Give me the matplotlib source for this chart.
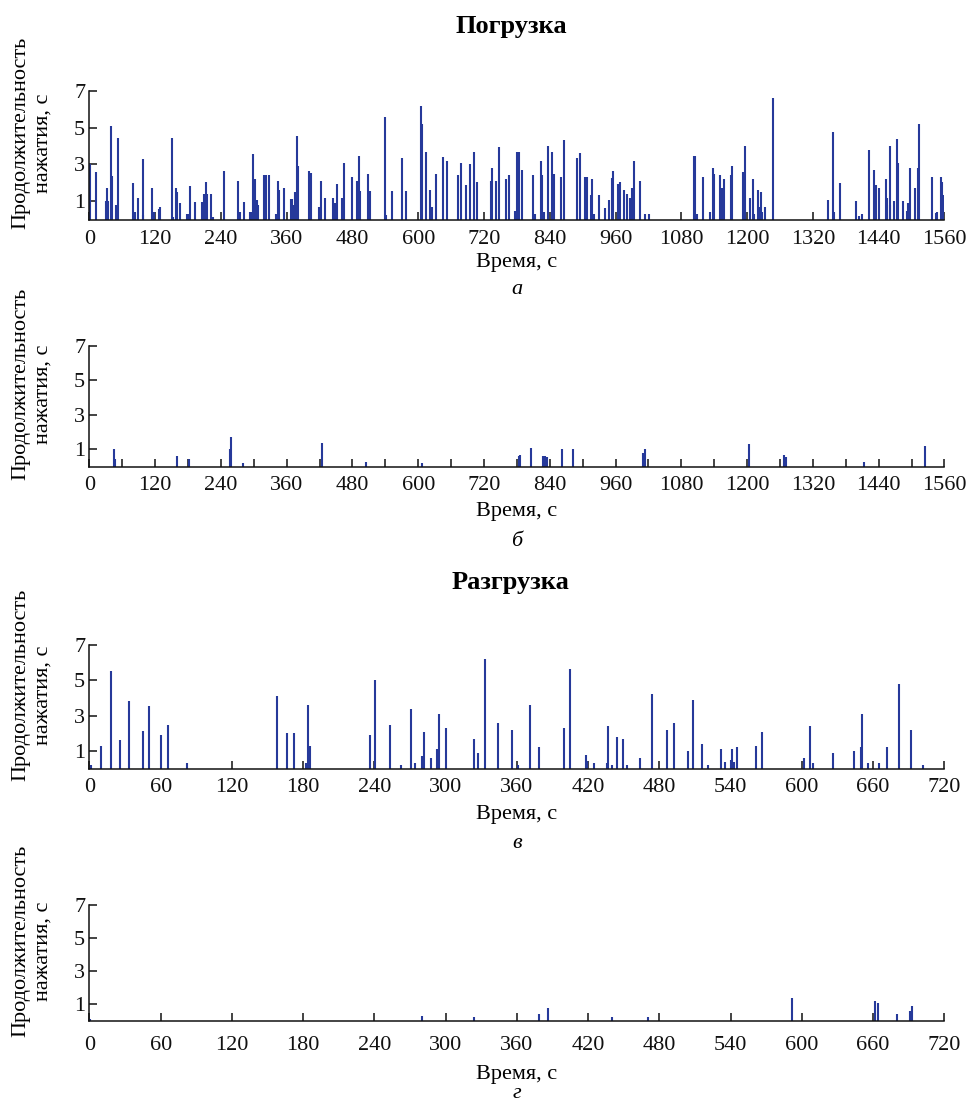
import matplotlib
matplotlib.use("Agg")
import matplotlib.pyplot as plt
from matplotlib.ticker import MultipleLocator

plt.rcParams['font.family'] = ['Liberation Serif', 'DejaVu Serif']

# ---- data: panel a (loading, t in s, press duration in s)
a_t = [1, 12, 30, 32, 34, 39, 42, 48, 52, 80, 84, 88, 97, 98, 114, 117, 127, 129,
       150, 152, 158, 160, 165, 178, 181, 184, 193, 205, 208, 210, 212, 214, 222, 226,
       245, 272, 275, 282, 293, 295, 298, 303, 305, 307, 319, 323, 327, 340, 344, 346,
       355, 368, 370, 373, 375, 379, 380,
       401, 404, 419, 423, 430, 445, 448, 451, 460, 464, 479, 489, 491, 493, 508, 512,
       539, 542, 552, 570, 577, 605, 607, 614, 622, 625, 633, 645, 653, 673, 678, 688,
       694, 702, 707, 732, 735, 742, 748, 761, 765, 777, 781, 783, 789,
       810, 813, 824, 826, 830, 836, 844, 848, 860, 866, 889, 895, 904, 907, 915, 917,
       920, 929, 940, 948, 954, 956, 964, 968, 976, 980, 987, 990, 993, 1005, 1014, 1021,
       1103, 1105, 1109, 1119, 1133, 1137, 1140, 1151, 1154, 1157, 1170, 1173,
       1193, 1197, 1206, 1210, 1212, 1220, 1222, 1226, 1228, 1232, 1247,
       1348, 1356, 1358, 1370, 1399, 1404, 1409, 1423, 1432, 1435, 1440, 1453, 1456,
       1460, 1461, 1468, 1473, 1476, 1485, 1491, 1494, 1497, 1507, 1512, 1514,
       1537, 1544, 1547, 1553, 1556, 1560]
a_v = [3.0, 2.6, 1.0, 1.7, 1.0, 5.1, 2.4, 0.8, 4.45, 2.0, 0.45, 1.2, 0.25, 3.3, 1.7, 0.45, 0.6, 0.7,
       4.45, 0.15, 1.7, 1.5, 0.9, 0.3, 0.3, 1.85, 0.95, 0.95, 0.4, 1.4, 2.05, 1.4, 1.4, 0.15,
       2.65, 2.1, 0.45, 0.95, 0.4, 0.4, 3.55, 2.2, 1.1, 0.8, 2.45, 2.45, 2.45, 0.3, 2.1, 1.6,
       1.7, 1.15, 1.15, 0.8, 1.5, 4.55, 2.9,
       2.65, 2.55, 0.7, 2.1, 1.2, 1.2, 0.9, 1.95, 1.2, 3.1, 2.3, 2.1, 3.45, 1.55, 2.5, 1.55,
       5.55, 0.25, 1.55, 3.35, 1.55, 6.15, 5.2, 3.65, 1.6, 0.7, 2.5, 3.4, 3.2, 2.45, 3.1, 1.9,
       3.0, 3.7, 2.05, 2.1, 2.8, 2.1, 3.95, 2.2, 2.45, 0.5, 3.65, 3.65, 2.7,
       2.45, 0.3, 3.2, 2.45, 0.4, 4.0, 3.7, 2.5, 2.3, 4.3, 3.35, 3.6, 2.3, 2.3, 1.35, 2.2,
       0.3, 1.35, 0.65, 1.1, 2.25, 2.65, 1.95, 2.05, 1.6, 1.4, 1.2, 1.7, 3.2, 2.1, 0.3, 0.3,
       3.45, 3.45, 0.3, 2.3, 0.45, 2.8, 2.5, 2.45, 1.75, 2.2, 2.45, 2.9,
       2.6, 4.0, 1.2, 2.2, 0.3, 1.6, 0.7, 1.5, 0.4, 0.7, 6.6,
       1.1, 4.75, 0.4, 2.0, 1.0, 0.2, 0.3, 3.8, 2.7, 1.9, 1.7, 2.2, 1.2,
       0.8, 4.0, 1.0, 4.4, 3.1, 1.0, 0.5, 0.9, 2.8, 1.7, 2.8, 5.2,
       2.3, 0.35, 0.4, 2.3, 2.05, 1.35]

# ---- panel b (loading, second operator)
b_t = [44, 47, 160, 182, 257, 259, 281, 424, 505, 607, 784, 786, 806, 827, 832, 835,
       862, 883, 1010, 1014, 1204, 1268, 1271, 1414, 1525]
b_v = [1.0, 0.42, 0.62, 0.45, 1.0, 1.75, 0.2, 1.4, 0.3, 0.2, 0.6, 0.7, 1.1, 0.62, 0.62, 0.58,
       1.0, 1.0, 0.78, 1.0, 1.3, 0.7, 0.58, 0.3, 1.2]

# ---- panel c (unloading)
c_t = [1, 10, 18, 26, 33.5, 45, 50, 60, 66, 82, 158, 166, 172.5, 182.5, 184.5, 185.7,
       236, 240.5, 253.5, 262.5, 271, 274.5, 280.5, 281.5, 287.5, 292.5, 294, 300,
       324, 327.5, 333.5, 344, 356, 361, 371, 379, 400, 405, 418, 419, 425, 436, 436.5,
       440.5, 444.5, 449.5, 453, 464, 474, 486, 492, 504, 508, 515.5, 521, 531.5, 535.5,
       540, 541.5, 543, 545.5, 561, 566.5, 602, 607, 609, 626.5, 644, 649.5, 651, 656,
       665, 672, 682, 691.5, 702]
c_v = [0.2, 1.3, 5.55, 1.6, 3.85, 2.15, 3.55, 1.9, 2.5, 0.3, 4.1, 2.0, 2.0, 0.3, 3.6, 1.3,
       1.9, 5.0, 2.5, 0.2, 3.4, 0.3, 0.7, 2.1, 0.6, 1.1, 3.1, 2.3,
       1.7, 0.9, 6.2, 2.6, 2.2, 0.2, 3.6, 1.2, 2.3, 5.65, 0.8, 0.45, 0.3, 0.3, 2.4,
       0.2, 1.8, 1.7, 0.2, 0.6, 4.2, 2.2, 2.6, 1.0, 3.9, 1.4, 0.2, 1.1, 0.4,
       0.5, 1.1, 0.4, 1.2, 1.3, 2.1, 0.6, 2.4, 0.3, 0.9, 1.0, 1.2, 3.1, 0.3,
       0.3, 1.2, 4.8, 2.2, 0.2]

# ---- panel d (unloading, second operator)
d_t = [0.5, 280.5, 323.5, 379, 386.5, 440.5, 470.5, 592, 661.5, 664, 680.5, 691, 692.5]
d_v = [0.1, 0.3, 0.22, 0.4, 0.8, 0.22, 0.22, 1.4, 1.2, 1.07, 0.4, 0.6, 0.9]

y_ticks = [1, 3, 5, 7]
titles = {'a': 'Погрузка', 'c': 'Разгрузка'}
ylabel1 = 'Продолжительность'
ylabel2 = 'нажатия, с'
xlabel = 'Время, с'
letters = ['а', 'б', 'в', 'г']

W, H = 969, 1106
fig = plt.figure(figsize=(W / 100, H / 100), dpi=100)

def fx(px):
    return px / W

def fy(py):
    return 1 - py / H

BAR = '#26399a'
FS = 16

# (top px, bottom px, xmax, major, minor, tick-label pad, data)
panels = [
    (90.7, 219.8, 1560, 120, None, 7.0, a_t, a_v),
    (346.0, 466.7, 1560, 120, 60, 7.0, b_t, b_v),
    (645.0, 768.7, 720, 60, None, 6.5, c_t, c_v),
    (905.0, 1021.0, 720, 60, None, 11.0, d_t, d_v),
]
xl_y = [263, 512, 815, 1075]
let_y = [290, 541, 843, 1094]
left_px, right_px = 89.4, 944.4

for i, (top, bot, xmax, major, minor, pad, ts, vs) in enumerate(panels):
    ax = fig.add_axes([fx(left_px), fy(bot), fx(right_px - left_px), (bot - top) / H])
    ax.vlines(ts, 0, vs, colors=BAR, linewidth=1.5)
    ax.set_xlim(0, xmax)
    ax.set_ylim(0, 7)
    ax.xaxis.set_major_locator(MultipleLocator(major))
    if minor:
        ax.xaxis.set_minor_locator(MultipleLocator(minor))
    ax.set_yticks(y_ticks)
    for s in ['top', 'right']:
        ax.spines[s].set_visible(False)
    for s in ['left', 'bottom']:
        ax.spines[s].set_linewidth(1.1)
        ax.spines[s].set_color('#111111')
    ax.tick_params(axis='both', which='both', direction='in', length=6, width=1.1,
                   labelsize=FS, colors='#111111')
    ax.tick_params(axis='x', which='both', pad=pad)
    ax.tick_params(axis='y', pad=3)
    ax.patch.set_alpha(0)
    mid = (top + bot) / 2 - 22
    fig.text(fx(21), fy(mid), ylabel1, rotation=90, ha='center', va='center', fontsize=FS)
    fig.text(fx(43), fy(mid + 10), ylabel2, rotation=90, ha='center', va='center', fontsize=FS)
    fig.text(fx(517), fy(xl_y[i]), xlabel, ha='center', va='center', fontsize=FS)
    fig.text(fx(517), fy(let_y[i]), letters[i], ha='center', va='center', fontsize=FS,
             style='italic')

fig.text(fx(511), fy(27), titles['a'], ha='center', va='center', fontsize=19, weight='bold')
fig.text(fx(511), fy(583), titles['c'], ha='center', va='center', fontsize=19, weight='bold')

fig.savefig('out.png', dpi=100)
